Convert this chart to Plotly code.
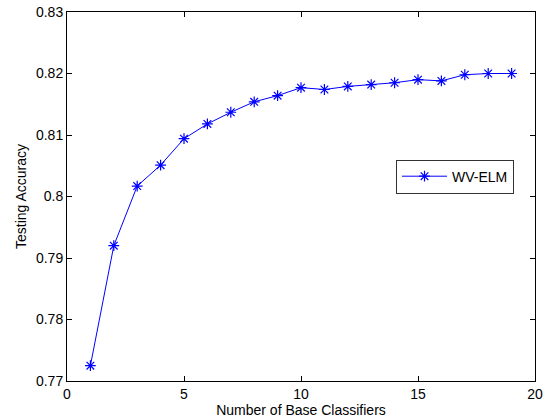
import plotly.graph_objects as go

num_classifiers = list(range(1, 20))
accuracy = [0.7725, 0.7920, 0.8017, 0.8051, 0.8094, 0.8118, 0.8137, 0.8154, 0.8164,
            0.8177, 0.8174, 0.8179, 0.8182, 0.8185, 0.8190, 0.8188, 0.8198, 0.8200, 0.8200]
series_name = "WV-ELM"
x_ticks = [0, 5, 10, 15, 20]
y_ticks = [0.77, 0.78, 0.79, 0.80, 0.81, 0.82, 0.83]
y_tick_labels = ["0.77", "0.78", "0.79", "0.8", "0.81", "0.82", "0.83"]

font_family = "Liberation Sans, Arial, Helvetica, sans-serif"

fig = go.Figure()
fig.add_trace(go.Scatter(
    x=num_classifiers, y=accuracy, mode="lines+markers", name=series_name,
    line=dict(color="#0000ff", width=1),
    marker=dict(symbol="asterisk-open", size=9, color="#0000ff",
                line=dict(color="#0000ff", width=1.2)),
))

axis_common = dict(
    showline=True, linecolor="black", linewidth=1, mirror="ticks",
    ticks="inside", ticklen=5, tickcolor="black", tickwidth=1,
    showgrid=False, zeroline=False, automargin=False,
    tickfont=dict(family=font_family, size=14, color="black"),
)

fig.update_layout(
    width=547, height=418,
    margin=dict(l=67, r=12, t=12, b=37),
    paper_bgcolor="white", plot_bgcolor="white",
    font=dict(family=font_family, size=14, color="black"),
    showlegend=True,
    legend=dict(x=0.703, y=0.60, xanchor="left", yanchor="top",
                bordercolor="#333333", borderwidth=1, bgcolor="white",
                font=dict(family=font_family, size=14, color="black"),
                itemwidth=45, tracegroupgap=0),
    xaxis=dict(range=[0, 20], tickvals=x_ticks,
               title=dict(text="Number of Base Classifiers", standoff=0,
                          font=dict(family=font_family, size=14)),
               **axis_common),
    yaxis=dict(range=[0.77, 0.83], tickvals=y_ticks, ticktext=y_tick_labels,
               title=dict(text="Testing Accuracy", standoff=6,
                          font=dict(family=font_family, size=14)),
               **axis_common),
)

fig.write_html("out.html", config={"displayModeBar": False},
               post_script="document.body.style.margin='0';document.body.style.overflow='hidden';")
